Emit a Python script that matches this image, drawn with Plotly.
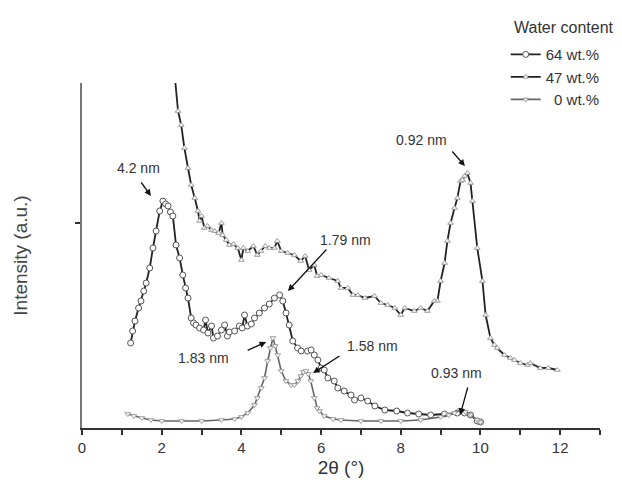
import plotly.graph_objects as go

# ---- data ----
x64 = [1.22, 1.27, 1.33, 1.42, 1.48, 1.55, 1.61, 1.70, 1.78, 1.86, 1.95, 2.03, 2.10, 2.16, 2.22, 2.28,
       2.36, 2.45, 2.53, 2.60, 2.66, 2.74, 2.80, 2.86, 2.95, 3.05, 3.10, 3.16, 3.25, 3.30, 3.40, 3.50,
       3.58, 3.65, 3.70, 3.83, 3.95, 4.02, 4.08, 4.15, 4.25, 4.33, 4.45, 4.58, 4.70, 4.83, 4.96, 5.04,
       5.12, 5.20, 5.29, 5.41, 5.50, 5.66, 5.75, 5.83, 5.92, 6.00, 6.08, 6.17, 6.33, 6.42, 6.58, 6.75,
       6.84, 7.00, 7.17, 7.35, 7.60, 7.90, 8.17, 8.45, 8.75, 9.10, 9.42, 9.60, 9.75, 9.92, 10.0]
y64 = [85, 97, 107, 120, 127, 137, 145, 160, 180, 197, 217, 227, 224, 222, 216, 212,
       183, 170, 153, 140, 130, 110, 105, 103, 100, 98, 108, 95, 102, 90, 92, 98,
       103, 92, 96, 97, 102, 100, 113, 102, 104, 110, 115, 120, 124, 130, 133, 127,
       115, 103, 87, 80, 77, 77, 78, 73, 68, 60, 58, 50, 47, 40, 37, 33,
       28, 30, 27, 22, 18, 17, 15, 14, 13, 14, 15, 15, 13, 7, 6]

x47 = [2.31, 2.41, 2.49, 2.57, 2.66, 2.74, 2.83, 2.91, 2.95, 3.00, 3.07, 3.15, 3.25, 3.33, 3.43, 3.50,
       3.53, 3.62, 3.70, 3.80, 3.91, 4.00, 4.05, 4.16, 4.30, 4.40, 4.49, 4.60, 4.70, 4.83, 4.90, 5.00,
       5.16, 5.33, 5.49, 5.60, 5.70, 5.83, 5.90, 6.00, 6.20, 6.42, 6.50, 6.67, 6.80, 6.92, 7.10, 7.34,
       7.50, 7.67, 7.85, 8.00, 8.10, 8.34, 8.50, 8.67, 8.84, 8.92, 9.00, 9.10, 9.17, 9.25, 9.35, 9.42,
       9.50, 9.55, 9.60, 9.67, 9.75, 9.80, 9.92, 10.05, 10.13, 10.25, 10.35, 10.42, 10.6, 10.75, 10.85,
       11.0, 11.18, 11.25, 11.5, 11.7, 11.93]
y47 = [360, 317, 303, 280, 260, 243, 230, 217, 207, 212, 200, 202, 198, 197, 195, 205,
       193, 188, 183, 184, 180, 168, 180, 177, 182, 173, 177, 182, 180, 180, 187, 177,
       175, 173, 167, 172, 158, 163, 152, 153, 150, 147, 140, 140, 133, 133, 130, 132,
       125, 123, 120, 113, 120, 117, 120, 117, 127, 127, 147, 165, 187, 205, 220, 230,
       247, 248, 252, 255, 245, 227, 180, 147, 113, 90, 83, 80, 73, 70, 68,
       65, 63, 65, 60, 60, 58]

x0 = [1.15, 1.30, 1.50, 1.73, 2.00, 2.50, 3.00, 3.50, 3.83, 4.00, 4.16, 4.33, 4.40, 4.50, 4.58, 4.66,
      4.73, 4.79, 4.85, 4.91, 5.00, 5.12, 5.25, 5.33, 5.42, 5.49, 5.56, 5.62, 5.68, 5.74, 5.83, 5.90,
      5.96, 6.08, 6.30, 6.50, 7.00, 7.50, 8.00, 8.50, 9.00, 9.20, 9.35, 9.50, 9.62, 9.75, 9.92, 10.0]
y0 = [14, 12, 10, 8, 7, 7, 7, 8, 9, 11, 15, 23, 30, 40, 50, 67,
      80, 90, 82, 73, 57, 47, 43, 43, 47, 52, 56, 57, 54, 47, 30, 20,
      17, 12, 9, 8, 7, 7, 7, 8, 11, 13, 15, 18, 16, 13, 8, 6]

x_ticks = [0, 2, 4, 6, 8, 10, 12]
y_tick = [205]

labels = ["4.2 nm", "1.79 nm", "0.92 nm", "1.83 nm", "1.58 nm", "0.93 nm"]
label_x = [1.41, 6.62, 8.51, 3.04, 7.30, 9.39]
label_y = [260, 188, 288, 70, 82, 55]
arrow_tail_x = [1.46, 6.17, 9.26, 4.12, 6.50, 9.69]
arrow_tail_y = [247, 180, 278, 77, 73, 42]
arrow_head_x = [1.73, 5.17, 9.61, 4.62, 5.80, 9.49]
arrow_head_y = [232, 137, 262, 86, 55, 13]

FONT = "Arial, Liberation Sans, sans-serif"

fig = go.Figure()
fig.add_trace(go.Scatter(
    x=x64, y=y64, mode="lines+markers", name="64 wt.%",
    line=dict(color="#222222", width=1.8),
    marker=dict(symbol="circle", size=6, color="white", line=dict(color="#555555", width=1))))
fig.add_trace(go.Scatter(
    x=x47, y=y47, mode="lines+markers", name="47 wt.%",
    line=dict(color="#222222", width=1.8),
    marker=dict(symbol="triangle-up", size=5, color="white", line=dict(color="#999999", width=1))))
fig.add_trace(go.Scatter(
    x=x0, y=y0, mode="lines+markers", name="\u20070 wt.%",
    line=dict(color="#666666", width=1.6),
    marker=dict(symbol="triangle-down", size=5, color="white", line=dict(color="#999999", width=1))))

for t, tx, ty, ax_, ay_, hx, hy in zip(labels, label_x, label_y, arrow_tail_x, arrow_tail_y,
                                       arrow_head_x, arrow_head_y):
    fig.add_annotation(x=tx, y=ty, text=t, showarrow=False,
                       font=dict(family=FONT, size=14, color="#333333"))
    fig.add_annotation(x=hx, y=hy, ax=ax_, ay=ay_, axref="x", ayref="y", text="",
                       showarrow=True, arrowhead=2, arrowsize=1, arrowwidth=1.3,
                       arrowcolor="#111111")

fig.add_annotation(xref="paper", yref="paper", x=0.83, y=1.16, xanchor="left", yanchor="middle",
                   text="Water content", showarrow=False,
                   font=dict(family=FONT, size=16, color="#333333"))

fig.update_layout(
    width=622, height=480,
    margin=dict(l=74, r=30, t=75, b=60, autoexpand=False),
    paper_bgcolor="white", plot_bgcolor="white",
    font=dict(family=FONT, color="#333333"),
    showlegend=True,
    legend=dict(x=0.818, y=1.13, xanchor="left", yanchor="top",
                font=dict(family=FONT, size=15, color="#333333"),
                bgcolor="rgba(0,0,0,0)", tracegroupgap=0, itemwidth=30),
    xaxis=dict(range=[0, 13], showgrid=False, zeroline=False, automargin=False,
               showline=True, linecolor="#333333", linewidth=2,
               tickvals=x_ticks, ticks="outside", ticklen=5, tickwidth=1.5, tickcolor="#333333",
               tickfont=dict(size=15, color="#333333"),
               minor=dict(tickvals=[1, 3, 5, 7, 9, 11, 13], ticks="outside", ticklen=5,
                          tickwidth=1.5, tickcolor="#333333"),
               title=dict(text="2θ (°)", font=dict(size=19, color="#333333"), standoff=6)),
    yaxis=dict(range=[0, 345], showgrid=False, zeroline=False, automargin=False,
               showline=True, linecolor="#777777", linewidth=2,
               tickvals=y_tick, ticktext=[""], ticks="outside", ticklen=5, tickwidth=1.5,
               tickcolor="#333333",
               title=dict(text="Intensity (a.u.)", font=dict(size=19, color="#444444"), standoff=40)),
)

fig.write_html("out.html")
